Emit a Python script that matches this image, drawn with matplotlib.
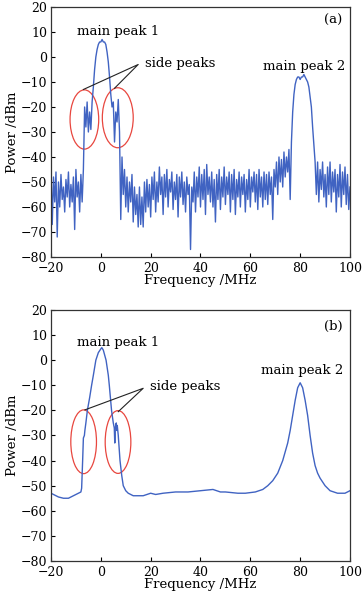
import numpy as np
import matplotlib
matplotlib.use("Agg")
import matplotlib.pyplot as plt
from matplotlib.patches import Ellipse

# (a) measured spectrum, 0.5 MHz steps from -20 to 100 MHz
power_a = [
    -45, -67, -48, -58, -46, -72, -50, -60, -47, -57, -52, -62, -49, -56, -46, -60, -51, -58, -48, -69,  # -20
    -45, -56, -50, -62, -47, -58, -45, -20, -28, -18, -30, -22, -29, -18, -12, -5, 0, 3, 5, 6,  # -10
    6, 7, 6, 6, 5, 2, -2, -8, -15, -20, -18, -34, -22, -26, -17, -30, -65, -40, -55, -45,  # 0
    -60, -48, -62, -50, -58, -47, -66, -52, -63, -55, -68, -52, -67, -56, -68, -50, -62, -49, -60, -51,  # 10
    -64, -48, -57, -46, -62, -50, -58, -44, -55, -48, -63, -47, -56, -45, -60, -49, -54, -46, -61, -50,  # 20
    -57, -47, -64, -48, -56, -46, -59, -50, -62, -48, -55, -51, -77, -52, -58, -46, -62, -48, -56, -44,  # 30
    -60, -47, -57, -45, -63, -43, -55, -48, -58, -46, -60, -49, -66, -47, -57, -45, -61, -48, -56, -44,  # 40
    -59, -48, -55, -46, -62, -47, -57, -45, -63, -49, -56, -46, -60, -48, -55, -47, -62, -49, -57, -45,  # 50
    -60, -48, -54, -46, -58, -47, -61, -45, -56, -48, -60, -46, -57, -47, -59, -46, -55, -48, -65, -45,  # 60
    -52, -42, -55, -40, -50, -41, -52, -38, -48, -40, -46, -37, -57, -34, -22, -15, -11, -9, -8, -8,  # 70
    -9, -8, -8, -7, -8, -9, -10, -12, -16, -20, -28, -35, -42, -55, -42, -58, -45, -53, -42, -56,  # 80
    -47, -60, -44, -55, -42, -58, -46, -54, -45, -62, -47, -56, -43, -60, -46, -55, -44, -59, -47, -61,  # 90
    -52,
]
freq_a = np.linspace(-20, 100, len(power_a))

# (b) smoothed spectrum
freq_b = [-20, -17, -15, -13, -11, -9, -8, -7.7, -7.3, -7, -6.6, -6.4, -6, -5.4, -4.5,
          -3.7, -3, -2, -1, 0, 0.4, 1, 2.1, 3, 3.4, 4.3, 5, 5.4, 5.6, 5.8, 6, 6.2, 6.4,
          6.6, 7, 7.7, 8.4, 9, 10, 11, 13, 15, 17, 20, 22, 25, 30, 35, 40, 45, 48, 50,
          55, 58, 62, 65, 67, 69, 71, 73, 75, 76, 77, 78, 79, 80, 81, 82, 83, 84, 85,
          86, 87, 88, 90, 92, 95, 98, 100]
power_b = [-53, -54.5, -55, -55, -54, -53, -52.5, -51, -40, -31, -30, -28, -25, -20, -15,
           -10, -6, 0, 3, 4.5, 5, 4, 0, -6, -10, -20, -25, -27, -33, -27, -26, -25, -28,
           -26, -30, -40, -46, -50, -52, -53, -54, -54, -54, -53, -53.5, -53, -52.5, -52.5, -52, -51.5, -52.5, -52.5,
           -53, -53, -52.5, -51.5, -50, -48, -45, -40, -33, -28, -22, -16, -11, -9, -11, -16, -22, -30, -37,
           -42, -45, -47, -50, -52, -53, -53, -52]

plt.rcParams['font.family'] = ['DejaVu Serif']
plt.rcParams['font.size'] = 9.5

BLUE = '#4063c2'
RED = '#e8473f'

fig = plt.figure(figsize=(3.64, 6.02), dpi=100)
ax_a = fig.add_axes([0.1401, 0.5731, 0.8214, 0.4153])
ax_b = fig.add_axes([0.1401, 0.0681, 0.8214, 0.4170])


def style(ax):
    ax.set_xlim(-20, 100)
    ax.set_ylim(-80, 20)
    ax.set_xticks(range(-20, 101, 20))
    ax.set_yticks(range(-80, 21, 10))
    ax.tick_params(direction='in', length=3, width=0.8, top=False, right=False, labelsize=9)
    ax.tick_params(axis='x', pad=3.5)
    ax.tick_params(axis='y', pad=2.5)
    for s in ax.spines.values():
        s.set_linewidth(0.9)
        s.set_color('#333333')
    ax.set_xlabel('Frequency /MHz', labelpad=-0.5)
    ax.set_ylabel('Power /dBm', labelpad=1.5)


# panel (a)
ax_a.plot(freq_a, power_a, color=BLUE, lw=1.0)
style(ax_a)
ax_a.text(97, 14.5, '(a)', ha='right', va='center')
ax_a.text(7, 10, 'main peak 1', ha='center', va='center')
ax_a.text(32, -2.5, 'side peaks', ha='center', va='center')
ax_a.text(81.5, -4, 'main peak 2', ha='center', va='center')
ax_a.plot([-7, 15, 5.5], [-13, -3, -12.5], color='#222222', lw=0.8)
ax_a.add_patch(Ellipse((-6.6, -25), 11.5, 23.7, fill=False, ec=RED, lw=0.9))
ax_a.add_patch(Ellipse((6.8, -24.3), 12.4, 24, fill=False, ec=RED, lw=0.9))

# panel (b)
ax_b.plot(freq_b, power_b, color=BLUE, lw=1.0)
style(ax_b)
ax_b.text(97, 13.6, '(b)', ha='right', va='center')
ax_b.text(7, 7, 'main peak 1', ha='center', va='center')
ax_b.text(34, -10.3, 'side peaks', ha='center', va='center')
ax_b.text(80.7, -4.3, 'main peak 2', ha='center', va='center')
ax_b.plot([-6.4, 17, 7], [-19.8, -11.2, -20.5], color='#222222', lw=0.8)
ax_b.add_patch(Ellipse((-6.9, -32.5), 10.3, 25.4, fill=False, ec=RED, lw=0.9))
ax_b.add_patch(Ellipse((6.9, -32.6), 10.3, 25, fill=False, ec=RED, lw=0.9))

fig.savefig('out.png', dpi=100)
